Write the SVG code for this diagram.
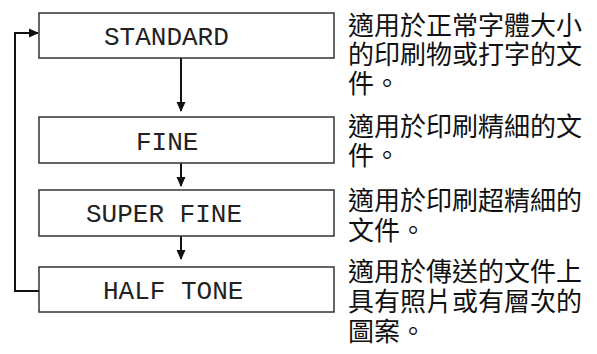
<svg xmlns="http://www.w3.org/2000/svg" width="597" height="354" viewBox="0 0 597 354">
<style>
.box{fill:#fff;stroke:#333;stroke-width:1.5}
.lbl{font-family:"Liberation Mono","Courier New",monospace;font-size:26px;fill:#222}
.desc{font-family:"Noto Sans CJK TC","Noto Sans CJK SC",sans-serif;font-size:26px;fill:#111}
.con{fill:none;stroke:#111;stroke-width:2}
</style>
<defs>
<marker id="ah" markerWidth="10" markerHeight="11" refX="9" refY="5.5" orient="auto" markerUnits="userSpaceOnUse">
<path d="M0,1 L10,5.5 L0,10 Z" fill="#111"/>
</marker>
</defs>
<rect width="597" height="354" fill="#fff"/>
<g id="connectors">
<line class="con" x1="181" y1="58" x2="181" y2="111" marker-end="url(#ah)"/>
<line class="con" x1="181" y1="163" x2="181" y2="186" marker-end="url(#ah)"/>
<line class="con" x1="181" y1="236" x2="181" y2="259" marker-end="url(#ah)"/>
<path class="con" d="M39,291 H15 V33 H38" marker-end="url(#ah)"/>
</g>
<g id="standard">
<rect class="box" x="39" y="13" width="295" height="45"/>
<text class="lbl" x="104" y="45">STANDARD</text>
</g>
<g id="fine">
<rect class="box" x="39" y="117" width="295" height="46"/>
<text class="lbl" x="136" y="150">FINE</text>
</g>
<g id="superfine">
<rect class="box" x="39" y="190" width="295" height="46"/>
<text class="lbl" x="86" y="222">SUPER FINE</text>
</g>
<g id="halftone">
<rect class="box" x="39" y="267" width="295" height="45"/>
<text class="lbl" x="103" y="299">HALF TONE</text>
</g>
<g id="desc-standard">
<text class="desc"><tspan x="348" y="35">適用於正常字體大小</tspan><tspan x="348" y="64">的印刷物或打字的文</tspan><tspan x="348" y="93">件。</tspan></text>
</g>
<g id="desc-fine">
<text class="desc"><tspan x="348" y="136">適用於印刷精細的文</tspan><tspan x="348" y="165">件。</tspan></text>
</g>
<g id="desc-superfine">
<text class="desc"><tspan x="348" y="210">適用於印刷超精細的</tspan><tspan x="348" y="240">文件。</tspan></text>
</g>
<g id="desc-halftone">
<text class="desc"><tspan x="348" y="281">適用於傳送的文件上</tspan><tspan x="348" y="311">具有照片或有層次的</tspan><tspan x="348" y="341">圖案。</tspan></text>
</g>
</svg>
